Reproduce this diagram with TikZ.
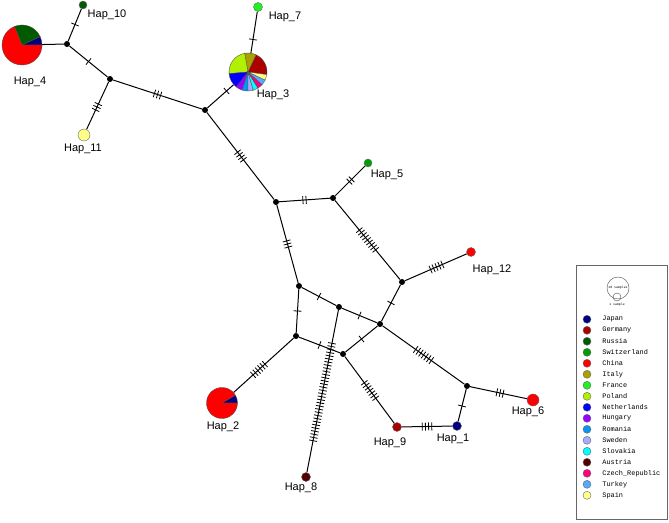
\documentclass[tikz,border=0pt]{standalone}
\usepackage{fontspec}
\setmainfont{Liberation Sans}
\newfontfamily\legfont{Liberation Mono}
\usetikzlibrary{calc,positioning,backgrounds}
\definecolor{japan}{HTML}{000080}
\definecolor{germany}{HTML}{AA0000}
\definecolor{russia}{HTML}{005A00}
\definecolor{switzerland}{HTML}{00A000}
\definecolor{china}{HTML}{FF0000}
\definecolor{italy}{HTML}{AAA000}
\definecolor{france}{HTML}{22F022}
\definecolor{poland}{HTML}{B0F000}
\definecolor{netherlands}{HTML}{0000FF}
\definecolor{hungary}{HTML}{9900FF}
\definecolor{romania}{HTML}{0A96F0}
\definecolor{sweden}{HTML}{AAAAFF}
\definecolor{slovakia}{HTML}{00FFFF}
\definecolor{austria}{HTML}{550000}
\definecolor{czech}{HTML}{FF0080}
\definecolor{turkey}{HTML}{55AAFF}
\definecolor{spain}{HTML}{FFFF88}
\tikzset{hap/.style={circle,draw=black!60,line width=.4pt,inner sep=0,minimum size=9pt},
  mv/.style={circle,fill=black,inner sep=0,minimum size=6pt},
  pienode/.style={circle,inner sep=0,minimum size=#1},
  lab/.style={font=\fontsize{11}{13}\selectfont,inner sep=0},
  link/.style={line width=1pt,draw=black},
  mutick/.style={line width=.8pt,draw=black},
  legdot/.style={circle,draw=black!60,line width=.4pt,inner sep=0,minimum size=8pt},
  legtext/.style={font=\legfont\fontsize{6.9}{8}\selectfont,inner sep=0}}
\newcommand\tickgap{3.2}
% n short bars centred on the link between two nodes
\newcommand\mutations[3]{%
  \foreach \k in {1,...,#3}{
    \pgfmathsetmacro\off{(\k-(#3+1)/2)*\tickgap}
    \coordinate (tm) at ($(#1)!0.5!(#2)$);
    \coordinate (tk) at ($(tm)!\off pt!(#2)$);
    \draw[mutick] ($(tk)!4pt!90:(#2)$) -- ($(tk)!4pt!-90:(#2)$);
  }}
\newcommand\hapslice[5]{%
  \filldraw[fill=#5,draw=black!70,line width=.35pt] (#1.center) -- ++(#2:#4) arc[start angle=#2,end angle=#3,radius=#4] -- cycle;}

\begin{document}
\begin{tikzpicture}[x=1pt,y=1pt]
\useasboundingbox (0,0) rectangle (669,522);
% haplotypes
\node[pienode=40pt] (h4) at (22,477) {};
\node[hap,fill=russia,minimum size=8pt] (h10) at (83,517) {};
\node[hap,fill=spain,minimum size=12pt] (h11) at (84,387) {};
\node[pienode=38pt] (h3) at (248,450) {};
\node[hap,fill=france] (h7) at (258,515) {};
\node[hap,fill=switzerland,minimum size=8pt] (h5) at (368,359) {};
\node[hap,fill=china] (h12) at (471,270) {};
\node[hap,fill=china,minimum size=12pt] (h6) at (533,122) {};
\node[hap,fill=japan] (h1) at (457,96) {};
\node[hap,fill=germany] (h9) at (397,95) {};
\node[pienode=31pt] (h2) at (222,119) {};
\node[hap,fill=austria] (h8) at (306,45) {};
% median vectors
\foreach \m/\x/\y in {m1/67/478,m2/110/443,m3/205/412,m4/276/320,m5/333/324,m6/402/240,
  m7/299/236,m8/339/215,m9/380/198,m10/296/186,m11/343/168,m12/467/136}
  \node[mv] (\m) at (\x,\y) {};
\begin{scope}[on background layer]
\foreach \a/\b/\n in {h4/m1/0,m1/h10/1,m1/m2/1,m2/h11/3,m2/m3/3,m3/h3/1,h3/h7/1,m3/m4/4,
  m4/m5/2,m5/h5/2,m5/m6/9,m6/h12/5,m4/m7/3,m7/m8/1,m8/m9/1,m6/m9/1,m7/m10/1,m10/m11/1,
  m11/m9/1,m8/h8/32,m10/h2/6,m11/h9/7,m9/m12/7,m12/h6/3,m12/h1/1,h9/h1/4}{
  \draw[link] (\a) -- (\b);
  \ifnum\n>0 \mutations{\a}{\b}{\n}\fi
}
\end{scope}
% pies
\foreach \s/\e/\c in {0/25/japan,25/112/russia,112/360/china} \hapslice{h4}{\s}{\e}{20}{\c};
\foreach \s/\e/\c in {0/30/japan,30/360/china} \hapslice{h2}{\s}{\e}{15.5}{\c};
\foreach \s/\e/\c in {-8/65/germany,65/100/italy,100/185/poland,185/232/netherlands,232/252/hungary,
  252/270/romania,270/286/sweden,286/302/slovakia,302/318/czech,318/335/turkey,335/352/spain}
  \hapslice{h3}{\s}{\e}{19}{\c};
% labels
\node[lab] (l4) at (30,440) {Hap\_4};
\node[lab] (l10) at (107,507) {Hap\_10};
\node[lab] (l11) at (83,373) {Hap\_11};
\node[lab] (l3) at (273,427) {Hap\_3};
\node[lab] (l7) at (285,505) {Hap\_7};
\node[lab] (l5) at (387,347) {Hap\_5};
\node[lab] (l12) at (492,252) {Hap\_12};
\node[lab] (l6) at (528,110) {Hap\_6};
\node[lab] (l1) at (453,83) {Hap\_1};
\node[lab] (l9) at (390,79) {Hap\_9};
\node[lab] (l2) at (223,95) {Hap\_2};
\node[lab] (l8) at (301,34) {Hap\_8};
% legend
\node[draw=black!60,line width=.5pt,minimum width=91pt,minimum height=254pt,inner sep=0] (legend) at (621.5,130) {};
\node[circle,draw=black!70,line width=.4pt,minimum size=22pt,inner sep=0] (s10) at (618,234) {};
\node[circle,draw=black!70,line width=.4pt,minimum size=8pt,inner sep=0] (s1) at (617,225) {};
\node[legtext,font=\legfont\fontsize{3.2}{4}\selectfont] at (s10) {10 samples};
\node[legtext,font=\legfont\fontsize{3.2}{4}\selectfont,below=2pt of s1] {1 sample};
\foreach \c/\t [count=\i from 0] in {japan/Japan,germany/Germany,russia/Russia,switzerland/Switzerland,
  china/China,italy/Italy,france/France,poland/Poland,netherlands/Netherlands,hungary/Hungary,
  romania/Romania,sweden/Sweden,slovakia/Slovakia,austria/Austria,czech/Czech\_Republic,
  turkey/Turkey,spain/Spain}{
  \node[legdot,fill=\c] (d\i) at (587,{202.7-11*\i}) {};
  \node[legtext,right=11pt of d\i] (t\i) {\t};
}
\end{tikzpicture}
\end{document}
